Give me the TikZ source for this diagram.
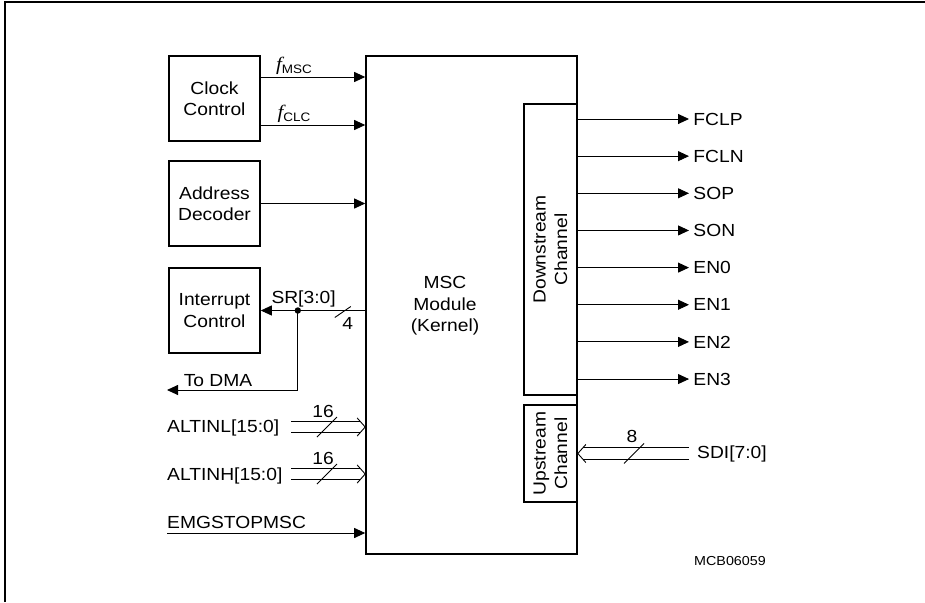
\documentclass[tikz,border=0pt]{standalone}
\usepackage{fontspec}
\setmainfont{Liberation Sans}[FakeStretch=1.1]
\newfontfamily\fserif{Liberation Serif}[FakeStretch=1.1]
\usetikzlibrary{arrows.meta, calc, positioning}

\newcommand{\freq}[1]{{\fserif\itshape\fontsize{19}{21.5}\selectfont f}\textsubscript{#1}}
% open head of a bus, #2 = -8 for a head pointing right, 8 for left
\newcommand{\bushead}[2]{\draw[line width=0.9pt] ($(#1)+(#2,-9)$) -- (#1) -- ($(#1)+(#2,9)$);}
\newcommand{\busslash}[1]{\draw[line width=0.9pt] ($(#1)+(-10,10)$) -- ($(#1)+(10,-10)$);}

\begin{document}
\begin{tikzpicture}[x=1pt, y=-1pt, font=\fontsize{17.5}{21.5}\selectfont,
    blk/.style={draw, line width=1.6pt, align=center, inner sep=0pt, minimum width=91pt, minimum height=85pt},
    sig/.style={line width=0.9pt, -{Triangle[length=11pt, width=10pt]}},
    bus/.style={double, double distance=10.5pt, line width=0.9pt, shorten >=5pt}]
  \useasboundingbox (0,0) rectangle (925,602);
  \draw[line width=1.4pt] (5,602) -- (5,2) -- (925,2);

  % blocks
  \node[blk] (clk) at (214.5,98.5) {Clock\\Control};
  \node[blk] (adr) at (214.5,203.5) {Address\\Decoder};
  \node[blk] (irq) at (214.5,310.5) {Interrupt\\Control};
  \node[blk, minimum width=211pt, minimum height=498pt] (msc) at (471.5,305) {};
  \node[align=center] (mscl) at (445,306) {MSC\\Module\\(Kernel)};
  \node[blk, minimum width=53pt, minimum height=291pt] (down) at (550.5,249.5) {};
  \node[rotate=90, align=center] at (down) {Downstream\\Channel};
  \node[blk, minimum width=53pt, minimum height=97pt] (up) at (550.5,453.5) {};
  \node[rotate=90, align=center] at (up) {Upstream\\Channel};

  % inputs on the left
  \draw[sig] ([yshift=21.5pt]clk.east) coordinate (c1) -- (c1 -| msc.west)
    node[pos=0.32, above, inner sep=2pt] {\freq{MSC}};
  \draw[sig] ([yshift=-26.5pt]clk.east) coordinate (c2) -- (c2 -| msc.west)
    node[pos=0.32, above, inner sep=2pt] {\freq{CLC}};
  \draw[sig] (adr.east) -- (adr.east -| msc.west);

  \draw[sig] (irq.east -| msc.west) -- (irq.east)
    node[pos=0.59, above, inner sep=3pt] {SR[3:0]};
  \coordinate (sr) at ($(irq.east)+(37,0)$);
  \fill (sr) circle (3.2pt);
  \coordinate (dma) at (167,390);
  \draw[sig] (sr) |- (dma);
  \node[above, inner sep=3pt] at (218,390) {To DMA};
  \coordinate (srs) at ($(sr)+(45,1.5)$);
  \draw[line width=0.9pt] ($(srs)+(-8,5.5)$) -- ($(srs)+(8,-5.5)$);
  \node at ($(srs)+(5,11)$) {4};

  \node[anchor=base west, inner sep=0pt] (altl) at (167,432.5) {ALTINL[15:0]};
  \coordinate (al) at (291,427);
  \draw[bus] (al) -- (al -| msc.west);
  \bushead{al -| msc.west}{-8}
  \busslash{$(al)+(36,0)$}
  \node[inner sep=0pt] at (323,411) {16};

  \node[anchor=base west, inner sep=0pt] (alth) at (167,480.5) {ALTINH[15:0]};
  \coordinate (ah) at (291,474);
  \draw[bus] (ah) -- (ah -| msc.west);
  \bushead{ah -| msc.west}{-8}
  \busslash{$(ah)+(36,0)$}
  \node[inner sep=0pt] at (323,458) {16};

  \node[anchor=base west, inner sep=0pt] (emg) at (167,528) {EMGSTOPMSC};
  \coordinate (em) at (167,533);
  \draw[sig] (em) -- (em -| msc.west);

  % outputs of the downstream channel
  \foreach \name [count=\i from 0] in {FCLP,FCLN,SOP,SON,EN0,EN1,EN2,EN3} {
    \pgfmathsetmacro\yy{119+37.15*\i}
    \draw[sig] (down.east |- 0,\yy) -- (689,\yy)
      node[right, inner sep=4pt] (out\i) {\name};
  }

  % upstream channel input
  \node[anchor=west, inner sep=0pt] (sdi) at (697,453.5) {SDI[7:0]};
  \coordinate (sd) at (689,453.5);
  \draw[bus] (sd) -- (sd -| up.east);
  \bushead{sd -| up.east}{8}
  \busslash{$(sd)+(-55,0)$}
  \node[inner sep=0pt] at (632,436) {8};

  \node[font=\fontsize{13}{15}\selectfont] (id) at (730,561) {MCB06059};
\end{tikzpicture}
\end{document}
